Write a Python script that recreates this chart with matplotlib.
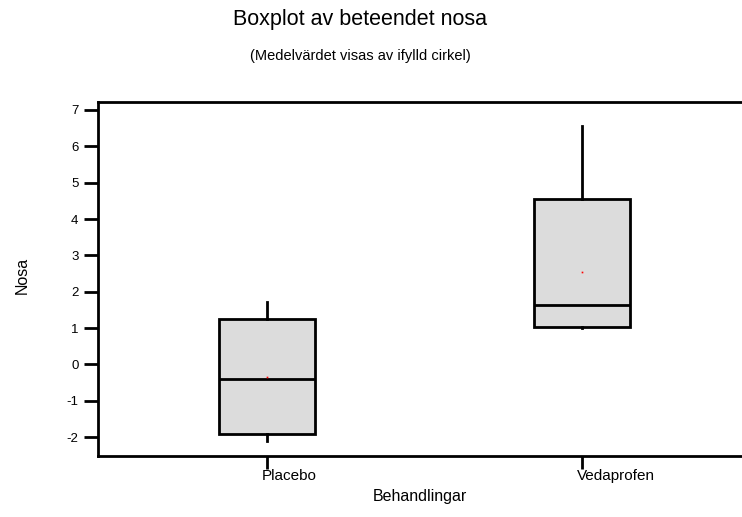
import matplotlib
matplotlib.use("Agg")
import matplotlib.pyplot as plt
from matplotlib.transforms import offset_copy

plt.rcParams['font.family'] = ['Liberation Sans', 'DejaVu Sans']

categories = ["Placebo", "Vedaprofen"]
whislo = [-2.1, 1.0]
q1 = [-1.92, 1.03]
med = [-0.40, 1.63]
q3 = [1.25, 4.55]
whishi = [1.72, 6.56]
means = [-0.35, 2.54]
yticks = [-2, -1, 0, 1, 2, 3, 4, 5, 6, 7]

fig = plt.figure(figsize=(7.42, 5.17), dpi=100)
ax = fig.add_axes([98/742, 61/517, 1 - 98/742, (456-102)/517])

stats = []
for i, c in enumerate(categories):
    stats.append(dict(label=c, whislo=whislo[i], q1=q1[i], med=med[i], q3=q3[i],
                      whishi=whishi[i], mean=means[i], fliers=[]))

lw = 2.0
ax.bxp(stats, positions=[1, 2], widths=0.305, patch_artist=True, showcaps=False,
       showmeans=True, showfliers=False,
       boxprops=dict(facecolor='#dcdcdc', edgecolor='black', linewidth=lw),
       medianprops=dict(color='black', linewidth=lw),
       whiskerprops=dict(color='black', linewidth=lw),
       meanprops=dict(marker='s', markersize=1.2, markerfacecolor='red',
                      markeredgecolor='red', markeredgewidth=0))

ax.set_xlim(0.463, 2.51)
ax.set_ylim(-2.52, 7.22)
ax.set_yticks(yticks)
ax.set_yticklabels([str(v) for v in yticks], fontsize=9.5)
ax.set_xticks([1, 2])
ax.set_xticklabels([])
for x, c in zip([1, 2], categories):
    tr = offset_copy(ax.get_xaxis_transform(), fig=fig, x=-5, y=-13, units='dots')
    ax.text(x, 0, c, transform=tr, ha='left', va='top', fontsize=11)

ax.tick_params(axis='y', length=10, width=2, pad=4)
ax.tick_params(axis='x', length=9.5, width=2)
for s in ['left', 'bottom', 'top']:
    ax.spines[s].set_linewidth(2)
ax.spines['right'].set_visible(False)

fig.text(22/742, 1 - 275/517, "Nosa", rotation=90, ha='center', va='center', fontsize=11.5)
fig.text(420/742, 1 - 497/517, "Behandlingar", ha='center', va='center', fontsize=11.5)

fig.text(360/742, 1 - 20/517, "Boxplot av beteendet nosa", ha='center', va='center',
         fontsize=15.5)
fig.text(360/742, 1 - 56/517, "(Medelvärdet visas av ifylld cirkel)", ha='center',
         va='center', fontsize=10.5)

fig.savefig("out.png", dpi=100)
